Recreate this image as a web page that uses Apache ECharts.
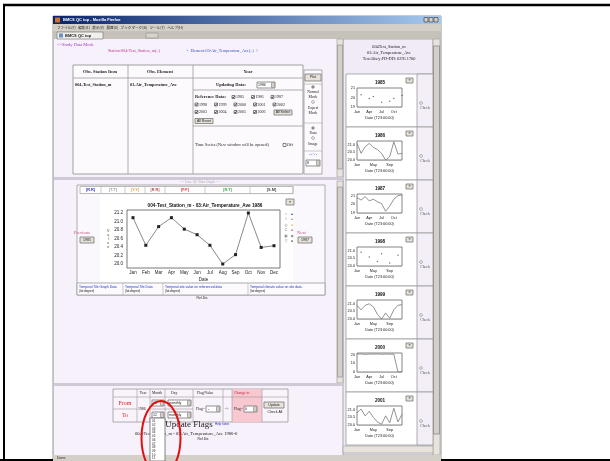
<!DOCTYPE html>
<html>
<head>
<meta charset="utf-8">
<title>BMCS QC top</title>
<script src="https://cdn.jsdelivr.net/npm/echarts@6/dist/echarts.min.js"></script>
<style>
html, body { margin: 0; padding: 0; background: #fff; }
#chart { width: 610px; height: 461px; }
</style>
</head>
<body>
<div id="chart"></div>
<script>
// values
const months = ['Jan', 'Feb', 'Mar', 'Apr', 'May', 'Jun', 'Jul', 'Aug', 'Sep', 'Oct', 'Nov', 'Dec']
const temp1986 = [21.09, 20.44, 20.88, 21.09, 20.82, 20.69, 20.44, 20.0, 20.22, 21.2, 20.39, 20.43]
const temp1985 = [null, 20.3, null, 19.9, 20.1, null, 19.5, null, 19.6, 19.9, null, 20.2]
const temp1987 = [20.8, 20.5, 20.9, 20.4, 20.6, 20.3, 20.1, 19.2, 19.8, 20.6, 21.0, 21.1]
const temp1998 = [null, 20.9, null, 20.6, null, 20.3, 20.8, null, 20.2, null, 20.7, null]
const temp1999 = [20.9, 20.6, 20.9, 21.0, 20.8, 20.3, 20.0, 20.4, 20.05, 20.6, 20.9, 20.95]
const temp2000 = [20.6, 20.9, 20.4, 20.8, 20.7, 20.9, 20.5, 20.8, 20.6, 20.7, 0.2, 0.1]
const temp2001 = [20.8, 21.05, 20.6, 20.9, 20.5, 20.2, 20.05, 20.6, 20.15, 21.1, 20.2, 20.7]
const refYears = ['1985', '1986', '1987', '1998', '1999', '2000', '2001']
const refChecks = [['1985', '1986', '1987'], ['1998', '1999', '2000', '2001', '2002'], ['2003', '2004', '2005', '2006']]
const monthItems = ['01', '02', '03', '04', '05', '06', '07', '08', '09', '10', '11']

const SERIF = '"Liberation Serif", "DejaVu Serif", serif'
const SANS = '"Liberation Sans", "DejaVu Sans", sans-serif'
const JP = '"Noto Sans CJK JP", sans-serif'

const g = []
function rect(x, y, w, h, fill, stroke, z) {
  g.push({ type: 'rect', z: z == null ? 1 : z, shape: { x: x, y: y, width: w, height: h },
    style: { fill: fill || 'none', stroke: stroke || null, lineWidth: stroke ? 0.8 : 0 }})
}
function line(x1, y1, x2, y2, color, w, z) {
  g.push({ type: 'line', z: z == null ? 2 : z, shape: { x1: x1, y1: y1, x2: x2, y2: y2 },
    style: { stroke: color, lineWidth: w || 1 }})
}
function text(x, y, s, o) {
  o = o || {}
  g.push({ type: 'text', z: o.z == null ? 4 : o.z, x: x, y: y,
    style: { text: s, fill: o.color || '#222', fontSize: o.size || 5, fontFamily: o.font || SERIF,
      fontWeight: o.bold ? 'bold' : 'normal', textAlign: o.align || 'left', align: o.align || 'left',
      textVerticalAlign: 'middle', verticalAlign: 'middle' }})
}
function button(x, y, w, h, label, size) {
  rect(x, y, w, h, '#e6e2da', '#777', 3)
  text(x + w / 2, y + h / 2, label, { align: 'center', size: size || 3.5, font: SANS })
}
function check(x, y) {
  rect(x, y - 1.5, 3, 3, '#fff', '#666', 3)
  g.push({ type: 'polyline', z: 4, shape: { points: [[x + 0.5, y], [x + 1.2, y + 1], [x + 2.6, y - 1.1]] },
    style: { stroke: '#000', lineWidth: 0.6, fill: null }})
}
function radio(x, y, on) {
  g.push({ type: 'circle', z: 3, shape: { cx: x, cy: y, r: 1.4 }, style: { fill: '#fff', stroke: '#666', lineWidth: 0.5 }})
  if (on) g.push({ type: 'circle', z: 4, shape: { cx: x, cy: y, r: 0.7 }, style: { fill: '#000' }})
}
function select(x, y, w, label) {
  rect(x, y - 3, w, 6, '#fff', '#777', 3)
  rect(x + w - 3.5, y - 2.5, 3, 5, '#d4d0c8', '#999', 3)
  text(x + 1, y, label, { size: 3.5, font: SANS })
}

// slide frame
line(3, 5, 610, 5, '#000', 2.5)
line(4, 4, 4, 461, '#000', 2)
line(0, 460, 610, 460, '#000', 2)

// browser window
rect(53, 16, 388, 445, '#f7f1fb', '#7a7a7a', 0)
g.push({ type: 'rect', z: 1, shape: { x: 53, y: 16, width: 388, height: 8 },
  style: { fill: { type: 'linear', x: 0, y: 0, x2: 1, y2: 0,
    colorStops: [{ offset: 0, color: '#0a246a' }, { offset: 1, color: '#a6caf0' }] }}})
rect(55, 17.5, 5, 5, '#d0702a')
text(63, 20, 'BMCS QC top - Mozilla Firefox', { color: '#fff', size: 4, font: SANS, bold: true })
rect(424, 17.5, 4, 4.5, '#d4d0c8', '#555', 2)
rect(429, 17.5, 4, 4.5, '#d4d0c8', '#555', 2)
rect(434, 17.5, 4, 4.5, '#d4d0c8', '#555', 2)
rect(53, 24, 388, 7, '#d4d0c8')
text(57, 27.5, 'ファイル(F)   編集(E)   表示(V)   履歴(S)   ブックマーク(B)   ツール(T)   ヘルプ(H)', { size: 3.6, font: JP })
rect(53, 31, 388, 8, '#c6c2ba')
rect(57, 32, 46, 7, '#f2f0ec', '#888', 2)
rect(59, 33.5, 4, 4, '#6b8fc8', null, 3)
text(65, 35.5, 'BMCS QC top', { bold: true, size: 4, font: SANS })
rect(146, 33, 12, 5, '#d8d4cc', '#999', 2)

// frames
rect(54, 39, 386, 416, '#f7f1fb', null, 0)
rect(343, 39, 90, 416, '#f1eaf7', '#9a9a9a', 0)
rect(433, 39, 7, 416, '#e8e4dc', '#aaa', 1)
rect(433.5, 46, 6, 388, '#d4d0c8', '#888', 2)
rect(337, 39, 6, 138, '#e8e4dc', '#aaa', 1)
rect(337.5, 45, 5, 124, '#d4d0c8', '#999', 2)
rect(337, 181, 6, 202, '#e8e4dc', '#aaa', 1)
rect(337.5, 187, 5, 190, '#d4d0c8', '#999', 2)
rect(54, 177, 289, 3, '#cfc9d6', null, 1)
rect(54, 383, 289, 3, '#cfc9d6', null, 1)
rect(343, 446, 90, 7, '#e8e4dc', '#aaa', 2)
rect(53, 455, 388, 6, '#d4d0c8', null, 2)
text(57, 458, 'Done', { size: 3.5, font: SANS })

// top frame: selection table
text(57, 44.5, '<<Study Data Mode', { color: '#a040c0', size: 4.5 })
text(108, 51, 'Station:004-Test_Station_m(..)', { color: '#c03090', size: 4.2 })
text(186, 51, '>  Element:03-Air_Temperature_Ave(..)  >', { color: '#3050c0', size: 4.2 })
rect(73, 65, 230, 109, '#fcfafd', '#8c8c8c', 1)
line(128, 65, 128, 174, '#999', 0.8)
line(193, 65, 193, 174, '#999', 0.8)
line(73, 78, 303, 78, '#999', 0.8)
line(193, 90, 303, 90, '#999', 0.8)
line(193, 126, 303, 126, '#999', 0.8)
text(100, 72, 'Obs. Station Item', { align: 'center', bold: true, size: 4.5 })
text(160, 72, 'Obs. Element', { align: 'center', bold: true, size: 4.5 })
text(248, 72, 'Year', { align: 'center', bold: true, size: 4.5 })
text(75, 85, '004-Test_Station_m', { bold: true, size: 4.3 })
text(130, 85, '03-Air_Temperature_Ave', { bold: true, size: 4.3 })
text(216, 85, 'Updating Data:', { bold: true, size: 4.5 })
select(257, 85, 18, '1986')
text(195, 97, 'Reference Data:', { bold: true, size: 4.5 })
refChecks.forEach(function(row, r) {
  const x0 = r === 0 ? 232 : 195
  row.forEach(function(y, i) {
    check(x0 + i * 19.5, 97 + r * 7.5)
    text(x0 + i * 19.5 + 4, 97 + r * 7.5, y, { size: 4 })
  })
})
button(274, 110, 18, 5, 'All Select')
button(195, 118.5, 18, 5, 'All Reset')
text(195, 145, 'Time Series (New window will be opened)', { size: 4.3 })
rect(283, 143.5, 3, 3, '#fff', '#666', 3)
text(287, 145, 'Off', { size: 4.3 })
rect(304, 70, 18, 104, '#fcfafd', '#999', 1)
line(304, 84, 322, 84, '#aaa', 0.6)
line(304, 123, 322, 123, '#aaa', 0.6)
line(304, 151, 322, 151, '#aaa', 0.6)
button(305, 74, 16, 7, 'Plot')
radio(313, 87, true)
text(313, 92, 'Normal', { align: 'center', size: 3.8 })
text(313, 97, 'Mode', { align: 'center', size: 3.8 })
radio(313, 102, false)
text(313, 108, 'Expert', { align: 'center', size: 3.8 })
text(313, 113, 'Mode', { align: 'center', size: 3.8 })
radio(313, 128, true)
text(313, 133, 'Data', { align: 'center', size: 3.8 })
radio(313, 138, false)
text(313, 144, 'Image', { align: 'center', size: 3.8 })
text(313, 155, '<<>>', { align: 'center', size: 3.8, color: '#3050c0' })
select(306, 163, 14, '8')

// middle frame: graph panel
text(200, 182, '- -  Line QC Data Graph  - -', { align: 'center', size: 3.5, color: '#aaa' })
rect(77, 185, 248, 110, '#fbf8fd', '#999', 0)
rect(80, 186.5, 213, 7, '#fff', '#aaa', 1)
const tabs = [[80, 101, '[R.R]', '#3030c0'], [101, 125, '[T.T]', '#9a9a9a'], [125, 145, '[Y.Y]', '#e0a040'],
  [145, 165, '[R.R]', '#b05050'], [165, 205, '[F.F]', '#e03030'], [205, 250, '[R.T]', '#40a040'], [250, 293, '[S.M]', '#444']]
tabs.forEach(function(t) {
  line(t[1], 186.5, t[1], 193.5, '#aaa', 0.6)
  text((t[0] + t[1]) / 2, 190, t[2], { align: 'center', size: 3.8, color: t[3], font: SANS, bold: true })
})
rect(100, 195, 193, 87, '#ffffff', null, 0)
rect(127, 210, 153, 58, '#fff', '#555', 1)
button(286, 199, 8, 6, '≡')
const legendRows = [['○', '▲', '#334499'], ['I', '▲', '#999'], ['◎', '●', '#e0a030'], ['C', '●', '#b04040'],
  ['▣', '◆', '#777'], ['▽', '●', '#222']]
legendRows.forEach(function(r, i) {
  text(286, 214 + i * 5.5, r[0], { align: 'center', size: 3.5, color: '#777', font: SANS })
  text(292, 214 + i * 5.5, r[1], { align: 'center', size: 3.5, color: r[2], font: SANS })
})
text(74, 233, 'Previous', { size: 4.5, color: '#c05070' })
button(80, 237, 14, 6, '1985')
text(297, 233, 'Next', { size: 4.5, color: '#c05070' })
button(298, 237, 14, 6, '1987')
rect(77, 283, 248, 12, '#fcfafd', '#999', 1)
const links = [[77, 'Temporal Tile Graph Data'], [123, 'Temporal Tile Data'], [163, 'Temporal site value on referenced data'], [248, 'Temporal climate value on site data']]
links.forEach(function(l, i) {
  if (i > 0) line(l[0], 283, l[0], 295, '#aaa', 0.6)
  text(l[0] + 2, 287, l[1], { size: 3.3, color: '#2030d0', font: SANS })
  text(l[0] + 2, 291, '(lat:degree)', { size: 3, color: '#222', font: SANS })
})
text(202, 298.5, 'Ref.Dis', { align: 'center', size: 3.3, font: SANS })

// bottom frame: flag update table
rect(113, 389, 175, 33, '#f9f4fc', '#999', 1)
rect(232, 389, 30, 33, '#f8c8d0', null, 1)
;[137, 150, 165, 193, 223, 232, 262].forEach(function(x) { line(x, 389, x, 422, '#999', 0.6) })
line(113, 397, 288, 397, '#999', 0.6)
line(113, 409, 137, 409, '#999', 0.6)
line(150, 409, 193, 409, '#999', 0.6)
text(143, 393, 'Year', { align: 'center', size: 3.8 })
text(157, 393, 'Month', { align: 'center', size: 3.8 })
text(171, 393, 'Day', { size: 3.8 })
text(197, 393, 'Flag/Value', { size: 3.8 })
text(234, 393, 'Change to', { size: 3.8, color: '#c02040' })
text(125, 403, 'From', { align: 'center', size: 6, color: '#e02020' })
text(125, 415, 'To', { align: 'center', size: 6, color: '#e02020' })
text(138, 409, '1986', { size: 3.8 })
select(152, 403, 12, '01')
select(152, 415, 12, '12')
select(168, 403, 23, 'monthly')
select(168, 415, 23, 'monthly')
text(196, 409, 'Flag=', { size: 3.8 })
select(206, 409, 14, ' - ')
text(227, 409, '->', { align: 'center', size: 3.8 })
text(234, 409, 'Flag=', { size: 3.8 })
select(244, 409, 13, '0')
button(264, 402, 20, 6, 'Update')
text(275, 412, 'Check All', { align: 'center', size: 3.5, font: SANS })
text(189, 425, 'Update Flags', { align: 'center', size: 9 })
text(215, 424, 'Help notes', { size: 3, color: '#2030d0', font: SANS })
text(135, 434, '004-Test_Station_m - 03:Air_Temperature_Ave 1986-0', { size: 4.6 })
text(203, 439.5, 'Ref.Dis', { align: 'center', size: 3.3, font: SANS })
rect(150, 418, 15, 43, '#fff', '#666', 6)
monthItems.forEach(function(m, i) {
  text(152, 421.5 + i * 3.7, m, { size: 3, font: SANS, z: 7 })
})
g.push({ type: 'ellipse', z: 8, shape: { cx: 161, cy: 438, rx: 19.5, ry: 37 },
  style: { fill: null, stroke: '#e01010', lineWidth: 2 }})

// right frame: reference year panels
text(389, 47, '004Test_Station_m', { align: 'center', size: 4.3 })
text(389, 53, '03:Air_Temperature_Ave', { align: 'center', size: 4.3 })
text(389, 59, 'Test:50a/y:FD-DD: 0295 1700', { align: 'center', size: 4.3 })

const panels = [
  { data: temp1985, kind: 'scatter', min: 19, max: 21, step: 1, every: 2 },
  { data: temp1986, kind: 'line', min: 20, max: 21.25, step: 0.5, every: 3 },
  { data: temp1987, kind: 'line', min: 19, max: 21.2, step: 1, every: 2 },
  { data: temp1998, kind: 'scatter', min: 20, max: 21.25, step: 0.5, every: 3 },
  { data: temp1999, kind: 'line', min: 20, max: 21.25, step: 0.5, every: 3 },
  { data: temp2000, kind: 'line', min: 0, max: 22, step: 10, every: 2 },
  { data: temp2001, kind: 'line', min: 20, max: 21.25, step: 0.5, every: 3 }
]

const grids = [{ left: 133, top: 213, width: 141, height: 51, outerBoundsMode: 'none' }]
const xAxes = [{
  gridIndex: 0, type: 'category', data: months, boundaryGap: false,
  axisLine: { show: false }, axisTick: { show: false },
  axisLabel: { fontSize: 4.5, margin: 6, color: '#222', fontFamily: SANS },
  splitLine: { show: true, lineStyle: { color: '#d8d8d8', width: 0.6 } },
  name: 'Date', nameLocation: 'middle', nameGap: 13,
  nameTextStyle: { fontSize: 4.5, color: '#222', fontFamily: SANS }
}]
const yAxes = [{
  gridIndex: 0, type: 'value', min: 20, max: 21.2, interval: 0.2,
  axisLine: { show: false }, axisTick: { show: false },
  axisLabel: { fontSize: 4.5, margin: 10, color: '#222', fontFamily: SANS, formatter: function(v) { return v.toFixed(1) } },
  splitLine: { show: true, lineStyle: { color: '#d8d8d8', width: 0.6 } },
  name: 'V\na\nl\nu\ne', nameLocation: 'middle', nameGap: 21, nameRotate: 0,
  nameTextStyle: { fontSize: 3.6, color: '#444', fontFamily: SANS, lineHeight: 4 }
}]
const series = [{
  type: 'line', xAxisIndex: 0, yAxisIndex: 0, data: temp1986,
  symbol: 'rect', symbolSize: 3, lineStyle: { color: '#8a8a8a', width: 1 },
  itemStyle: { color: '#222' }, animation: false, clip: false
}]
const titles = [{
  text: '004-Test_Station_m - 03:Air_Temperature_Ave 1986', left: 205, top: 203.5, textAlign: 'center', padding: 0,
  textStyle: { fontSize: 4.7, fontWeight: 'bold', color: '#111', fontFamily: SANS }
}]

panels.forEach(function(p, i) {
  const top = 74 + 53 * i
  const gi = i + 1
  rect(346, top, 87, 53, '#fff', '#9a9a9a', 0)
  rect(417, top, 16, 53, '#f4eef8', '#9a9a9a', 1)
  button(406, top + 4, 7, 5, '≡')
  radio(421, top + 29, false)
  text(425, top + 34, 'Check', { align: 'center', size: 3.8, color: '#555' })
  rect(357, top + 14, 45, 19, '#fff', '#666', 1)
  titles.push({
    text: refYears[i], left: 380, top: top + 6.5, textAlign: 'center', padding: 0,
    textStyle: { fontSize: 4.6, fontWeight: 'bold', color: '#111', fontFamily: SANS }
  })
  grids.push({ left: 357, top: top + 14, width: 45, height: 19, outerBoundsMode: 'none' })
  xAxes.push({
    gridIndex: gi, type: 'category', data: months, boundaryGap: false,
    axisLine: { show: false }, axisTick: { show: false },
    axisLabel: { interval: p.every, fontSize: 3.8, margin: 2.5, color: '#222', fontFamily: SANS },
    splitLine: { show: true, interval: p.every, lineStyle: { color: '#d0d0d0', width: 0.5 } },
    name: 'Date (T23:00:00)', nameLocation: 'middle', nameGap: 9,
    nameTextStyle: { fontSize: 3.8, color: '#222', fontFamily: SANS }
  })
  yAxes.push({
    gridIndex: gi, type: 'value', min: p.min, max: p.max, interval: p.step,
    axisLine: { show: false }, axisTick: { show: false },
    axisLabel: { fontSize: 3.8, margin: 2, color: '#222', fontFamily: SANS, showMaxLabel: p.max % p.step === 0,
      formatter: function(v) { return p.step < 1 ? v.toFixed(1) : String(v) } },
    splitLine: { show: true, lineStyle: { color: '#d0d0d0', width: 0.5 } }
  })
  series.push(p.kind === 'line' ? {
    type: 'line', xAxisIndex: gi, yAxisIndex: gi, data: p.data, showSymbol: false,
    lineStyle: { color: '#777', width: 0.8 }, animation: false
  } : {
    type: 'scatter', xAxisIndex: gi, yAxisIndex: gi, data: p.data, symbolSize: 1.5,
    itemStyle: { color: '#555' }, animation: false
  })
})

const chart = echarts.init(document.getElementById('chart'))
chart.setOption({
  animation: false,
  backgroundColor: '#fff',
  textStyle: { fontFamily: SANS },
  title: titles,
  grid: grids,
  xAxis: xAxes,
  yAxis: yAxes,
  series: series,
  graphic: { elements: g }
})
</script>
</body>
</html>
